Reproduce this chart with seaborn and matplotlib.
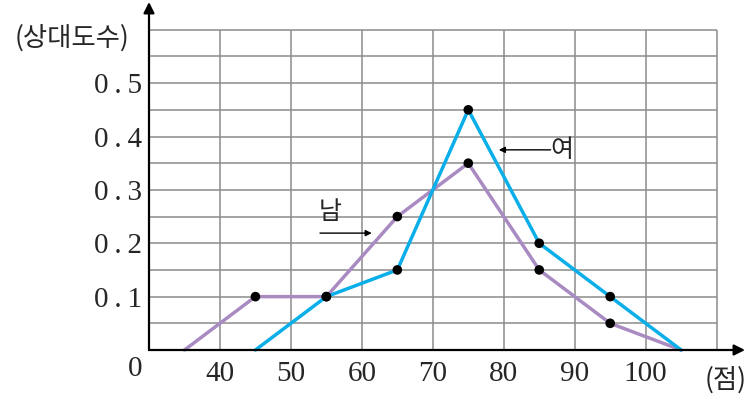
"""Relative frequency polygons for boys and girls."""

import numpy as np
import pandas as pd
import matplotlib
matplotlib.use("Agg")
import matplotlib.pyplot as plt
import seaborn as sns

# data
male_scores = [35, 45, 55, 65, 75, 85, 95, 105]
male_freq = [0, 0.1, 0.1, 0.25, 0.35, 0.15, 0.05, 0]
female_scores = [45, 55, 65, 75, 85, 95, 105]
female_freq = [0, 0.1, 0.15, 0.45, 0.2, 0.1, 0]
x_ticks = [40, 50, 60, 70, 80, 90, 100]
y_ticks = [0.1, 0.2, 0.3, 0.4, 0.5]

sns.set_style("white")
plt.rcParams["font.family"] = ["Liberation Serif", "DejaVu Serif"]
KR = ["Noto Sans CJK KR", "DejaVu Sans"]

df = pd.concat([
    pd.DataFrame({"score": male_scores, "freq": male_freq, "sex": "남"}),
    pd.DataFrame({"score": female_scores, "freq": female_freq, "sex": "여"}),
])

fig = plt.figure(figsize=(7.5, 3.98), dpi=100)
ax = fig.add_axes([149 / 750, 48 / 398, (745 - 149) / 750, (350 - 2) / 398])
x_max, y_max = 114, 0.652
ax.set_xlim(30, x_max)
ax.set_ylim(0, y_max)

# grid, only up to 110 / 0.6
ax.vlines(np.arange(40, 111, 10), 0, 0.6, color="#8c8c8c", lw=1.1, zorder=1)
ax.hlines(np.arange(0.05, 0.61, 0.05), 30, 110, color="#8c8c8c", lw=1.1, zorder=1)

sns.lineplot(data=df, x="score", y="freq", hue="sex",
             palette={"남": "#a98bc2", "여": "#0aaee8"},
             lw=2.5, legend=False, ax=ax, zorder=3, clip_on=False)

inner = df[df["freq"] > 0]
sns.scatterplot(data=inner, x="score", y="freq", color="black", s=48,
                edgecolor="none", ax=ax, zorder=4, legend=False)

for s in ax.spines.values():
    s.set_visible(False)

# axes with arrow heads
arr = dict(arrowstyle="-|>", color="black", lw=1.6, mutation_scale=16,
           shrinkA=0, shrinkB=0)
ax.annotate("", xy=(x_max, 0), xytext=(30, 0), arrowprops=arr,
            annotation_clip=False)
ax.annotate("", xy=(30, y_max), xytext=(30, 0), arrowprops=arr,
            annotation_clip=False)

ax.set_xticks(x_ticks)
ax.set_xticklabels([str(t) for t in x_ticks])
ax.set_yticks(y_ticks)
ax.set_yticklabels([f"0\u2009.\u2009{int(round(t * 10))}" for t in y_ticks])
ax.tick_params(axis="x", length=0, pad=8, labelsize=21)
ax.tick_params(axis="y", length=0, pad=5, labelsize=21)
ax.set_xlabel("")
ax.set_ylabel("")

ax.text(28.1, -0.035, "0", fontsize=21, ha="center", va="center")
ax.text(111.2, -0.056, "(점)", fontsize=19, family=KR, ha="center",
        va="center")
fig.text(72 / 750, 1 - 38 / 398, "(상대도수)", fontsize=19, family=KR,
         ha="center", va="center")

# labels with small arrows
small = dict(arrowstyle="-|>", color="black", lw=1.0, mutation_scale=9,
             shrinkA=0, shrinkB=0)
ax.text(55.6, 0.258, "남", fontsize=18, family=KR, ha="center", va="center")
ax.annotate("", xy=(61.4, 0.219), xytext=(54.1, 0.219), arrowprops=small)
ax.text(88.2, 0.375, "여", fontsize=18, family=KR, ha="center", va="center")
ax.annotate("", xy=(79.3, 0.375), xytext=(86.6, 0.375), arrowprops=small)

fig.savefig("out.png", dpi=100)
